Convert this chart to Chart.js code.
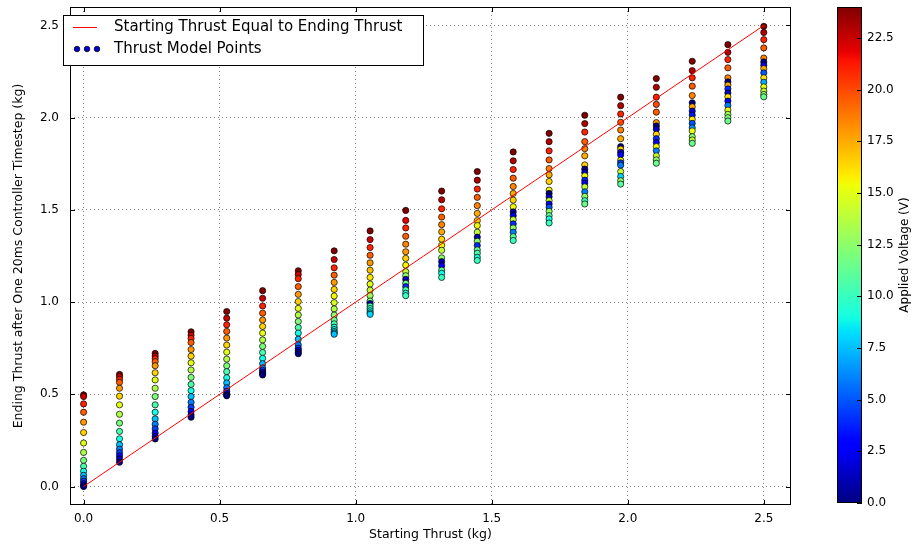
<!DOCTYPE html>
<html>
<head>
<meta charset="utf-8">
<script src="https://cdn.jsdelivr.net/npm/chart.js@4.4.0/dist/chart.umd.min.js"></script>
<style>
  html, body { margin: 0; padding: 0; background: #fff; }
  #wrap { position: relative; width: 913px; height: 546px; }
  #main { position: absolute; left: 0; top: 0; }
  #bar { position: absolute; left: 800px; top: 0; }
</style>
</head>
<body>
<div id="wrap">
  <canvas id="main" width="913" height="546"></canvas>
  <canvas id="bar" width="113" height="546"></canvas>
</div>
<script>
// starting thrust of each column (kg)
const startThrust = [0, 0.132, 0.263, 0.395, 0.526, 0.658, 0.789, 0.921, 1.053, 1.184,
  1.316, 1.447, 1.579, 1.711, 1.842, 1.974, 2.105, 2.237, 2.368, 2.5];

// ending thrust read per column, top to bottom (kg)
const endThrust = [
  [0.497, 0.488, 0.448, 0.403, 0.349, 0.293, 0.236, 0.185, 0.142, 0.110, 0.083, 0.061, 0.043, 0.029, 0.016, 0.005, 0.0],
  [0.608, 0.596, 0.581, 0.565, 0.533, 0.490, 0.443, 0.392, 0.344, 0.299, 0.259, 0.227, 0.203, 0.184, 0.167, 0.150, 0.132],
  [0.722, 0.707, 0.693, 0.677, 0.655, 0.617, 0.578, 0.533, 0.488, 0.443, 0.403, 0.367, 0.338, 0.313, 0.290, 0.272, 0.258],
  [0.839, 0.821, 0.803, 0.781, 0.743, 0.707, 0.671, 0.632, 0.592, 0.554, 0.520, 0.488, 0.457, 0.430, 0.407, 0.389, 0.376],
  [0.949, 0.913, 0.877, 0.841, 0.805, 0.767, 0.729, 0.691, 0.655, 0.623, 0.590, 0.562, 0.536, 0.517, 0.505, 0.497, 0.492],
  [1.062, 1.021, 0.979, 0.940, 0.903, 0.868, 0.832, 0.795, 0.760, 0.727, 0.695, 0.666, 0.643, 0.630, 0.620, 0.612, 0.605],
  [1.170, 1.150, 1.127, 1.084, 1.042, 1.003, 0.966, 0.930, 0.895, 0.862, 0.832, 0.799, 0.768, 0.750, 0.738, 0.728, 0.720],
  [1.278, 1.231, 1.186, 1.146, 1.107, 1.069, 1.033, 0.997, 0.963, 0.930, 0.903, 0.882, 0.864, 0.851, 0.841, 0.833, 0.826],
  [1.386, 1.339, 1.296, 1.254, 1.213, 1.173, 1.134, 1.098, 1.065, 1.035, 1.006, 0.992, 0.978, 0.965, 0.953, 0.942, 0.934],
  [1.497, 1.443, 1.402, 1.357, 1.314, 1.273, 1.237, 1.200, 1.165, 1.143, 1.123, 1.102, 1.084, 1.066, 1.048, 1.035],
  [1.602, 1.555, 1.506, 1.461, 1.420, 1.381, 1.341, 1.308, 1.281, 1.240, 1.219, 1.197, 1.173, 1.156, 1.134],
  [1.708, 1.661, 1.613, 1.568, 1.523, 1.481, 1.442, 1.415, 1.379, 1.352, 1.330, 1.307, 1.283, 1.265, 1.243, 1.226],
  [1.814, 1.766, 1.719, 1.672, 1.627, 1.589, 1.553, 1.517, 1.489, 1.469, 1.447, 1.424, 1.402, 1.379, 1.355, 1.334],
  [1.915, 1.870, 1.820, 1.771, 1.724, 1.690, 1.654, 1.607, 1.589, 1.571, 1.550, 1.532, 1.514, 1.492, 1.469, 1.451, 1.429],
  [2.013, 1.968, 1.922, 1.870, 1.832, 1.793, 1.744, 1.721, 1.703, 1.685, 1.661, 1.645, 1.625, 1.598, 1.573, 1.550, 1.532],
  [2.111, 2.065, 2.020, 1.975, 1.933, 1.886, 1.843, 1.829, 1.812, 1.798, 1.769, 1.755, 1.742, 1.708, 1.681, 1.658, 1.640],
  [2.212, 2.165, 2.111, 2.072, 2.030, 1.973, 1.955, 1.937, 1.910, 1.886, 1.865, 1.843, 1.820, 1.793, 1.771, 1.753],
  [2.306, 2.255, 2.216, 2.171, 2.120, 2.081, 2.059, 2.036, 2.014, 1.991, 1.969, 1.945, 1.928, 1.897, 1.879, 1.861],
  [2.396, 2.354, 2.315, 2.270, 2.216, 2.194, 2.176, 2.156, 2.134, 2.113, 2.090, 2.066, 2.041, 2.018, 2.000, 1.982],
  [2.495, 2.462, 2.423, 2.378, 2.323, 2.302, 2.284, 2.266, 2.243, 2.216, 2.192, 2.167, 2.144, 2.126, 2.113]
];

// applied voltage of each point above (V), estimated from the colours
const voltSweep = [24, 22.5, 21, 19.5, 18, 16.5, 15, 13.5, 12, 10.5, 9, 7.5, 6, 4.5, 3, 1.5, 0];
const voltage = [
  voltSweep, voltSweep, voltSweep, voltSweep, voltSweep, voltSweep, voltSweep,
  [24, 22.5, 21, 19.5, 18, 16.5, 15.5, 14.5, 13.5, 12.5, 11.5, 10.5, 9.5, 9, 8.5, 8, 7.5],
  [24, 22.5, 21, 19.5, 18, 17, 16, 15, 14, 13, 12, 1, 10.5, 9.5, 9, 8.5, 8],
  [24, 22, 21, 19.5, 18.5, 18, 16.5, 15.5, 14, 12.5, 1, 11.5, 4, 10.5, 9, 10],
  [24, 23, 21, 19.5, 18.5, 17.5, 16.5, 15.5, 14, 12.5, 1, 3, 11, 9, 10],
  [24, 23, 21, 19.5, 18.5, 17.5, 16.5, 15.5, 14, 1, 12.5, 4, 11.5, 10.5, 9, 10],
  [24, 23, 21, 19.5, 18.5, 17.5, 16.5, 15.5, 0.5, 2, 14, 4, 12.5, 6, 11, 10],
  [24, 23, 21, 19.5, 18.5, 17.5, 16.5, 15.5, 0, 1.5, 14, 3, 5, 12.5, 11, 9, 10],
  [24, 23, 21, 19.5, 18.5, 17.5, 16.5, 0, 1.5, 15.5, 4, 2.5, 14, 6, 12.5, 10, 11.5],
  [24, 23, 21, 19.5, 18.5, 17.5, 0, 16.5, 1.5, 3, 15.5, 4.5, 6, 14, 8, 12.5, 11],
  [24, 23, 21, 20, 19.5, 18, 0, 1.5, 16.5, 4, 2.5, 15.5, 6, 14, 12.5, 11.5],
  [24, 23, 21, 19.5, 18.5, 0, 17.5, 2, 3.5, 16, 5, 6.5, 15, 12.5, 14, 11.5],
  [24, 23, 21, 19.5, 18.5, 0, 17.5, 4, 1.5, 16, 2.5, 6, 15, 13, 12, 11.5],
  [24, 23, 21, 19.5, 18.5, 0, 3, 17.5, 5, 16, 7, 15, 14, 12.5, 11.5]
];

// reference line: start == end
const lineX = [0, 2.5];
const lineY = [0, 2.5];

const voltMin = 0;
const voltMax = 24;

const FONT = '"DejaVu Sans", sans-serif';
Chart.defaults.font.family = FONT;
Chart.defaults.color = '#000';

// matplotlib "jet" colormap
const JET_R = [[0, 0], [0.35, 0], [0.66, 1], [0.89, 1], [1, 0.5]];
const JET_G = [[0, 0], [0.125, 0], [0.375, 1], [0.64, 1], [0.91, 0], [1, 0]];
const JET_B = [[0, 0.5], [0.11, 1], [0.34, 1], [0.65, 0], [1, 0]];
function interp(pts, t) {
  for (let i = 1; i < pts.length; i++) {
    if (t <= pts[i][0]) {
      const [x0, y0] = pts[i - 1], [x1, y1] = pts[i];
      return y0 + (y1 - y0) * (t - x0) / (x1 - x0);
    }
  }
  return pts[pts.length - 1][1];
}
function jet(t) {
  t = Math.max(0, Math.min(1, t));
  const c = [JET_R, JET_G, JET_B].map(p => Math.round(interp(p, t) * 255));
  return `rgb(${c[0]},${c[1]},${c[2]})`;
}

const points = [];
const colors = [];
startThrust.forEach((x, i) => {
  endThrust[i].forEach((y, k) => {
    points.push({ x: x, y: y });
    colors.push(jet((voltage[i][k] - voltMin) / (voltMax - voltMin)));
  });
});

// frame, inward ticks and legend, matplotlib classic style
const framePlugin = {
  id: 'frame',
  afterDraw(chart) {
    const { ctx, chartArea: a, scales } = chart;
    ctx.save();
    ctx.strokeStyle = '#000';
    ctx.lineWidth = 1;
    ctx.beginPath();
    scales.x.ticks.forEach(t => {
      const px = Math.round(scales.x.getPixelForValue(t.value)) + 0.5;
      ctx.moveTo(px, a.bottom); ctx.lineTo(px, a.bottom - 5);
      ctx.moveTo(px, a.top); ctx.lineTo(px, a.top + 5);
    });
    scales.y.ticks.forEach(t => {
      const py = Math.round(scales.y.getPixelForValue(t.value)) + 0.5;
      ctx.moveTo(a.left, py); ctx.lineTo(a.left + 5, py);
      ctx.moveTo(a.right, py); ctx.lineTo(a.right - 5, py);
    });
    ctx.stroke();
    ctx.strokeRect(a.left + 0.5, a.top + 0.5, a.right - a.left - 1, a.bottom - a.top - 1);

    // legend
    const lx = a.left - 7, ly = a.top + 8;
    ctx.fillStyle = '#fff';
    ctx.fillRect(lx, ly, 360, 50);
    ctx.strokeRect(lx + 0.5, ly + 0.5, 360, 50);
    const ds = chart.data.datasets;
    ctx.strokeStyle = ds[0].borderColor;
    ctx.beginPath();
    ctx.moveTo(lx + 10, ly + 12.5); ctx.lineTo(lx + 34, ly + 12.5);
    ctx.stroke();
    [14, 24, 34].forEach(dx => {
      ctx.beginPath();
      ctx.arc(lx + dx, ly + 34, 2.8, 0, Math.PI * 2);
      ctx.fillStyle = '#0000d0';
      ctx.fill();
      ctx.strokeStyle = '#000';
      ctx.lineWidth = 0.7;
      ctx.stroke();
    });
    ctx.fillStyle = '#000';
    ctx.font = '15px ' + FONT;
    ctx.textBaseline = 'middle';
    ctx.fillText(ds[0].label, lx + 51, ly + 12.5);
    ctx.fillText(ds[1].label, lx + 51, ly + 34);
    ctx.restore();
  }
};

const gridOpts = { color: 'rgba(0,0,0,0.5)', lineWidth: 1, drawTicks: false };

function noPad(s) {
  s.paddingTop = 0;
  s.paddingBottom = 0;
}

new Chart(document.getElementById('main'), {
  type: 'scatter',
  data: {
    datasets: [
      {
        type: 'line',
        label: 'Starting Thrust Equal to Ending Thrust',
        data: lineX.map((x, i) => ({ x: x, y: lineY[i] })),
        borderColor: '#ff0000',
        borderWidth: 1,
        pointRadius: 0,
        fill: false
      },
      {
        label: 'Thrust Model Points',
        data: points,
        pointBackgroundColor: colors,
        pointBorderColor: '#000',
        pointBorderWidth: 0.7,
        pointRadius: 3.1
      }
    ]
  },
  options: {
    responsive: false,
    animation: false,
    layout: { padding: { top: 7, right: 122, left: 7, bottom: 0 } },
    plugins: { legend: { display: false }, tooltip: { enabled: false } },
    scales: {
      x: {
        type: 'linear',
        min: -0.05,
        max: 2.6,
        ticks: { stepSize: 0.5, includeBounds: false, padding: 7, font: { size: 12 }, callback: v => v.toFixed(1) },
        grid: gridOpts,
        border: { display: false, dash: [1, 3] },
        title: { display: true, text: 'Starting Thrust (kg)', font: { size: 12.5 }, padding: { top: 4, bottom: 4 } },
        afterFit: s => { s.height = 41; }
      },
      y: {
        type: 'linear',
        min: -0.1,
        max: 2.6,
        ticks: { stepSize: 0.5, includeBounds: false, padding: 11, font: { size: 12 }, callback: v => v.toFixed(1) },
        grid: gridOpts,
        border: { display: false, dash: [1, 3] },
        title: { display: true, text: 'Ending Thrust after One 20ms Controller Timestep (kg)', font: { size: 12.5 }, padding: { top: 4, bottom: 4 } },
        afterFit: s => { s.width = 63; noPad(s); }
      }
    }
  },
  plugins: [framePlugin]
});

// colour bar
function barGradient(chart) {
  const a = chart.chartArea;
  if (!a) return '#888';
  const g = chart.ctx.createLinearGradient(0, a.bottom, 0, a.top);
  for (let i = 0; i <= 100; i++) g.addColorStop(i / 100, jet(i / 100));
  return g;
}

const cbPlugin = {
  id: 'cbframe',
  afterDraw(chart) {
    const { ctx, chartArea: a, scales } = chart;
    ctx.save();
    ctx.strokeStyle = '#000';
    ctx.lineWidth = 1;
    ctx.strokeRect(a.left + 0.5, a.top + 0.5, a.right - a.left - 1, a.bottom - a.top - 1);
    ctx.beginPath();
    scales.y.ticks.forEach(t => {
      const py = Math.round(scales.y.getPixelForValue(t.value)) + 0.5;
      ctx.moveTo(a.right, py); ctx.lineTo(a.right - 5, py);
    });
    ctx.stroke();
    ctx.translate(a.right + 43, (a.top + a.bottom) / 2);
    ctx.rotate(-Math.PI / 2);
    ctx.font = '12px ' + FONT;
    ctx.fillStyle = '#000';
    ctx.textAlign = 'center';
    ctx.textBaseline = 'middle';
    ctx.fillText('Applied Voltage (V)', 0, 0);
    ctx.restore();
  }
};

new Chart(document.getElementById('bar'), {
  type: 'bar',
  data: {
    labels: [''],
    datasets: [{
      data: [[voltMin, voltMax]],
      backgroundColor: ctx => barGradient(ctx.chart),
      borderWidth: 0,
      barPercentage: 1,
      categoryPercentage: 1
    }]
  },
  options: {
    responsive: false,
    animation: false,
    layout: { padding: { top: 7, bottom: 43, left: 37, right: 0 } },
    plugins: { legend: { display: false }, tooltip: { enabled: false } },
    scales: {
      x: { display: false },
      y: {
        position: 'right',
        min: voltMin,
        max: voltMax,
        ticks: { stepSize: 2.5, includeBounds: false, padding: 5, font: { size: 12 }, callback: v => v.toFixed(1) },
        grid: { display: false, drawTicks: false },
        border: { display: false },
        afterFit: s => { s.width = 51; noPad(s); }
      }
    }
  },
  plugins: [cbPlugin]
});
</script>
</body>
</html>
